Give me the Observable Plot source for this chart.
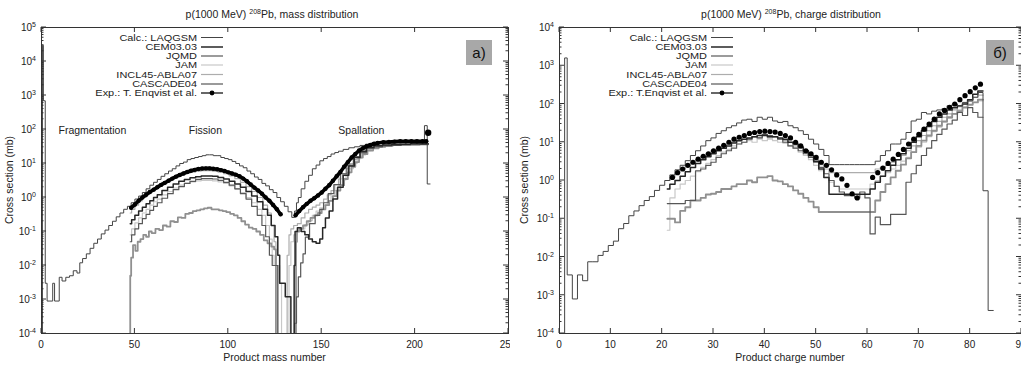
<!DOCTYPE html>
<html><head><meta charset="utf-8">
<script src="https://cdn.jsdelivr.net/npm/d3@7"></script>
<script src="https://cdn.jsdelivr.net/npm/@observablehq/plot@0.6"></script>
<style>
body{margin:0;background:#fff;overflow:hidden;width:1021px;height:367px}
#wrap{position:relative;width:1021px;height:367px;overflow:hidden}
#left,#right{position:absolute;top:0}
#left{left:0}#right{left:510px}
svg text{font-family:"Liberation Sans",Arial,Helvetica,sans-serif}
</style></head><body><div id="wrap"><div id="left"></div><div id="right"></div></div>
<script>
// ---------- Legend / labels ----------
const legendNames = ["Calc.: LAQGSM","CEM03.03","JQMD","JAM","INCL45-ABLA07","CASCADE04"];
const expNameMass = "Exp.: T. Enqvist et al.";
const expNameCharge = "Exp.: T.Enqvist et al.";
const massTicks = [0,50,100,150,200,250];
const chargeTicks = [0,10,20,30,40,50,60,70,80,90];
const massDecades = [-4,-3,-2,-1,0,1,2,3,4,5];
const chargeDecades = [-4,-3,-2,-1,0,1,2,3,4];

// ---------- Mass distribution (A, mb) ----------
const massLAQGSM = [[0.5,1e-6],[0.5,3e4],[1.5,700],[2.5,3e-3],[3.5,9e-4],[5.5,9e-4],[6.5,3e-3],[7.5,9e-4],[9,9e-4],[10,4.5e-3],[12,3.5e-3],[14,4.5e-3],[16,5e-3],[18,7e-3],[20,6e-3],[21,1.2e-2],[23,1.6e-2],[25,2.2e-2],[27,3.2e-2],[29,4.5e-2],[31,6e-2],[33,8.5e-2],[35,0.11],[37,0.15],[39,0.2],[41,0.27],[43,0.35],[45,0.45],[47,0.55],[49,0.7],[51,0.9],[53,1.1],[55,1.4],[57,1.8],[59,2.3],[61,2.8],[63,3.4],[65,4.2],[67,5],[69,6],[71,7],[73,8.5],[75,10],[77,11],[79,13],[81,14],[83,15],[85,16],[87,17],[89,18],[91,18],[93,17],[95,17],[97,15],[99,14],[101,13],[103,11.5],[105,10],[107,8.5],[109,7.5],[111,6],[113,5],[115,4],[117,3.4],[119,2.6],[121,2.2],[123,1.7],[125,1.4],[127,1.0],[129,0.75],[131,0.55],[133,0.38],[135,0.26],[136,0.4],[137,0.7],[138,1],[140,1.8],[142,3],[144,4.5],[146,7],[148,9],[150,12],[152,14],[154,16],[156,19],[158,21],[160,23],[163,26],[166,29],[169,31],[172,34],[175,37],[178,38],[181,39],[184,40],[187,40],[190,41],[193,42],[196,41],[199,42],[202,43],[204,44],[206,130],[207,2.5],[208,2.5]];
const massCEM = [[47.5,0.17],[49,0.22],[51,0.3],[53,0.4],[55,0.52],[57,0.65],[59,0.8],[61,1.0],[63,1.2],[66,1.6],[69,2.0],[72,2.5],[75,3.0],[78,3.4],[81,3.8],[84,4.1],[87,4.3],[90,4.3],[93,4.2],[96,3.9],[99,3.5],[102,3.0],[105,2.5],[108,2.0],[111,1.5],[114,1.1],[117,0.75],[120,0.45],[122,0.3],[124,0.15],[126,0.07],[127,0.02],[128,3e-3],[130,3e-3],[131,1.2e-3],[133,1.2e-3],[134,1e-6],[135,1e-6],[135.5,0.01],[136,0.1],[138,0.13],[140,0.1],[142,0.08],[144,0.06],[146,0.05],[148,0.045],[150,0.06],[151,0.13],[153,0.25],[155,0.4],[157,0.9],[160,2.0],[163,4.5],[166,8.5],[169,15],[172,23],[176,30],[180,33],[185,35],[190,36],[195,37],[200,38],[205,38],[207,38]];
const massJQMD = [[47.5,1e-6],[47.5,0.005],[48.5,0.017],[49.5,0.04],[51,0.027],[52,0.05],[54,0.06],[55,0.08],[57,0.07],[58,0.1],[60,0.09],[62,0.12],[64,0.11],[66,0.15],[68,0.14],[70,0.2],[72,0.19],[74,0.26],[76,0.25],[78,0.33],[80,0.35],[82,0.4],[84,0.42],[86,0.45],[88,0.48],[90,0.5],[92,0.45],[94,0.45],[96,0.42],[98,0.4],[100,0.37],[102,0.33],[104,0.3],[106,0.25],[108,0.2],[110,0.16],[112,0.13],[114,0.12],[116,0.1],[118,0.08],[120,0.055],[122,0.045],[124,0.036],[125,0.03],[126,1e-6],[136,1e-6],[136.5,0.05],[137,0.1],[139,0.12],[141,0.15],[143,0.2],[145,0.25],[147,0.3],[149,0.35],[151,0.45],[153,0.6],[155,0.8],[157,1.1],[159,1.6],[161,2.3],[163,3.5],[165,5.5],[167,8],[169,11],[171,15],[173,19],[176,24],[179,28],[182,31],[186,33],[190,35],[195,36],[200,37],[205,37],[207,37]];
const massJAM = [[47.5,0.08],[49,0.12],[51,0.18],[53,0.25],[55,0.35],[57,0.45],[59,0.6],[61,0.75],[63,0.9],[66,1.2],[69,1.5],[72,1.9],[75,2.3],[78,2.6],[81,2.9],[84,3.1],[87,3.2],[90,3.2],[93,3.1],[96,2.9],[99,2.6],[102,2.2],[105,1.8],[108,1.4],[111,1.0],[114,0.7],[117,0.45],[119,0.3],[121,0.15],[123,0.06],[124,0.02],[125,1e-2],[127,1e-2],[128,3e-3],[129,1e-6],[132,1e-6],[133,0.01],[134,0.05],[136,0.08],[138,0.1],[140,0.12],[142,0.16],[144,0.21],[146,0.3],[148,0.4],[150,0.5],[152,0.6],[154,0.8],[156,1.1],[158,1.6],[160,2.3],[162,3.3],[164,5],[166,7],[168,10],[170,14],[172,18],[175,24],[178,28],[181,31],[184,34],[188,36],[192,37],[196,38],[200,38],[204,38],[207,38]];
const massINCL = [[47.5,0.35],[49,0.45],[51,0.6],[53,0.8],[55,1.0],[57,1.3],[59,1.6],[61,1.9],[63,2.3],[66,2.8],[69,3.4],[72,4],[75,4.6],[78,5.2],[81,5.6],[84,6],[87,6.2],[90,6.2],[93,6],[96,5.6],[99,5],[102,4.3],[105,3.6],[108,2.8],[111,2.1],[114,1.5],[117,1.0],[120,0.6],[122,0.35],[124,0.15],[125,0.05],[126,0.01],[127,1e-6],[131,1e-6],[132,0.02],[133,0.08],[134,0.12],[136,0.15],[138,0.17],[140,0.25],[142,0.35],[144,0.45],[146,0.52],[148,0.6],[150,0.7],[152,0.9],[154,1.2],[156,1.6],[158,2.4],[160,3.5],[162,5],[164,7],[166,10],[168,13],[170,16],[172,20],[175,26],[178,30],[181,33],[184,36],[188,38],[192,39],[196,40],[200,40],[204,40],[206,38],[207,38]];
const massCASCADE = [[47.5,0.05],[49,0.08],[51,0.12],[53,0.17],[55,0.24],[57,0.32],[59,0.42],[61,0.55],[63,0.7],[66,0.95],[69,1.3],[72,1.7],[75,2.1],[78,2.6],[81,3.0],[84,3.4],[87,3.6],[90,3.6],[93,3.5],[96,3.2],[99,2.8],[102,2.3],[105,1.8],[108,1.3],[111,0.9],[114,0.55],[117,0.3],[119,0.15],[121,0.07],[123,0.02],[124,1e-2],[126,1e-2],[127,1e-6],[135,1e-6],[136,2e-4],[137,1.2e-3],[138,4.6e-3],[139.5,0.012],[140.5,0.022],[142,0.068],[145,0.17],[148,0.3],[150,0.45],[152,0.7],[155,1.3],[158,2.4],[162,5],[165,9],[169,15.6],[172,21],[176,28],[180,31],[185,33],[190,34],[195,35],[200,35],[205,36],[207,36]];
const massExpFission = [[48,0.5],[50,0.62],[52,0.8],[54,1.0],[56,1.2],[58,1.45],[60,1.7],[62,2.0],[64,2.35],[66,2.7],[68,3.1],[70,3.6],[72,4.1],[74,4.6],[76,5.1],[78,5.6],[80,6.1],[82,6.5],[84,6.9],[86,7.1],[88,7.2],[90,7.2],[92,7.0],[94,6.8],[96,6.4],[98,6.0],[100,5.5],[102,5.1],[104,4.7],[106,4.2],[108,3.6],[110,3.0],[112,2.4],[114,1.95],[116,1.6],[118,1.3],[120,1.0],[122,0.8],[124,0.6],[126,0.45],[128,0.32]];
const massExpSpall = [[136,0.3],[138,0.4],[140,0.52],[142,0.65],[144,0.8],[146,0.95],[148,1.15],[150,1.4],[152,1.8],[154,2.3],[156,3.1],[158,4.2],[160,5.6],[162,8],[164,11],[166,15],[168,19],[170,24],[172,28],[174,32],[176,35],[178,38],[180,40],[183,42],[186,43],[189,44],[192,45],[195,45],[198,45],[201,45],[204,45],[206,45]];
const massExpLast = [[207,80]];

// ---------- Charge distribution (Z, mb) ----------
const chargeLAQGSM = [[1,1e-6],[1,1600],[2,3.4e-3],[3,8e-4],[4,3.4e-3],[5,2.4e-3],[6,7.5e-3],[7,7.5e-3],[8,1.1e-2],[9,1.4e-2],[10,2e-2],[11,2.6e-2],[12,5.5e-2],[13,7.5e-2],[14,0.12],[15,0.16],[16,0.22],[17,0.3],[18,0.38],[19,0.55],[20,0.75],[21,1.0],[22,1.4],[23,1.9],[24,2.5],[25,3.3],[26,4.5],[27,6],[28,8],[29,11],[30,13],[31,17],[32,20],[33,24],[34,27],[35,32],[36,38],[37,40],[38,35],[39,45],[40,40],[41,45],[42,36],[43,33],[44,35],[45,27],[46,24],[47,20],[48,16],[49,12],[50,9],[51,6.5],[52,4.5],[53,2.6],[54,2.6],[55,2.6],[56,2.6],[57,2.6],[58,2.6],[59,2.6],[60,2.6],[61,2.6],[62,3.2],[63,4.5],[64,6],[65,9],[66,9],[67,12],[68,18],[69,36],[70,40],[71,60],[72,55],[73,65],[74,70],[75,75],[76,90],[77,100],[78,90],[79,110],[80,120],[81,150],[82,200],[83,0.54],[84,4e-4],[84.5,4e-4]];
const chargeCEM = [[21,0.6],[22,0.8],[23,1.0],[24,1.3],[25,1.7],[26,2.2],[27,2.8],[28,3.5],[29,4.2],[30,5],[31,6],[32,7],[33,8],[34,9.5],[35,11],[36,12],[37,13],[38,14],[39,15],[40,15],[41,14],[42,14],[43,13],[44,12],[45,10],[46,9],[47,7.5],[48,6],[49,4.5],[50,3.2],[51,2],[52,1.2],[53,0.44],[54,0.44],[55,0.44],[56,0.44],[57,0.44],[58,0.44],[59,0.44],[60,0.44],[61,0.6],[62,0.9],[63,1.3],[64,1.8],[65,2.5],[66,3.5],[67,5],[68,7],[69,10],[70,14],[71,20],[72,26],[73,35],[74,45],[75,55],[76,70],[77,80],[78,90],[79,100],[80,130],[81,180],[82,220],[82.5,220]];
const chargeJQMD = [[21,0.1],[22,0.1],[23,0.08],[24,0.16],[25,0.2],[26,0.3],[27,0.3],[28,0.35],[29,0.43],[30,0.45],[31,0.5],[32,0.6],[33,0.6],[34,0.7],[35,0.8],[36,0.8],[37,1.0],[38,0.9],[39,1.2],[40,1.2],[41,1.3],[42,1.0],[43,0.95],[44,0.8],[45,0.7],[46,0.55],[47,0.45],[48,0.35],[49,0.28],[50,0.2],[51,0.15],[52,0.15],[53,0.15],[54,0.15],[55,0.15],[56,0.15],[57,0.15],[58,0.15],[59,0.15],[60,0.15],[61,0.15],[62,0.3],[63,0.5],[64,0.8],[65,1.2],[66,1.8],[67,2.6],[68,3.8],[69,5.5],[70,8],[71,11],[72,15],[73,20],[74,27],[75,35],[76,45],[77,55],[78,65],[79,80],[80,95],[81,110],[82,130],[82.5,130]];
const chargeJAM = [[21,0.05],[22,0.35],[23,0.6],[24,0.8],[25,1.0],[26,1.3],[27,1.7],[28,2.2],[29,2.8],[30,3.5],[31,4.5],[32,5.5],[33,6.5],[34,8],[35,9],[36,10],[37,11],[38,10],[39,12],[40,11],[41,12],[42,11],[43,10],[44,9.5],[45,8],[46,7],[47,5.5],[48,4.5],[49,3.5],[50,2.5],[51,1.8],[52,1.2],[53,0.9],[54,0.7],[55,0.6],[56,0.6],[57,0.6],[58,0.6],[59,0.6],[60,0.6],[61,0.8],[62,1.0],[63,1.3],[64,1.6],[65,2],[66,2.5],[67,3.2],[68,4],[69,5.5],[70,7.5],[71,10],[72,14],[73,19],[74,25],[75,33],[76,42],[77,55],[78,70],[79,85],[80,100],[81,110],[82,120],[82.5,120]];
const chargeINCL = [[21,1.0],[22,1.2],[23,1.6],[24,2],[25,2.4],[26,3],[27,3.5],[28,4.2],[29,5],[30,6],[31,7],[32,8],[33,9],[34,10],[35,11],[36,13],[37,12],[38,14],[39,13],[40,15],[41,13],[42,14],[43,12],[44,11],[45,10],[46,8],[47,7],[48,5.5],[49,4.5],[50,3.5],[51,2.6],[52,2],[53,1.6],[54,1.6],[55,1.6],[56,1.6],[57,1.6],[58,1.6],[59,1.6],[60,1.6],[61,1.6],[62,2],[63,2.2],[64,2.5],[65,3],[66,3.5],[67,4.5],[68,6],[69,8],[70,11],[71,15],[72,20],[73,27],[74,35],[75,45],[76,55],[77,70],[78,85],[79,100],[80,120],[81,150],[82,170],[82.5,170]];
const chargeCASCADE = [[21,0.25],[22,0.25],[23,0.25],[24,0.25],[25,0.3],[26,0.3],[27,1.8],[28,2],[29,2.5],[30,3],[31,4],[32,5],[33,6],[34,7],[35,9],[36,10],[37,12],[38,14],[39,13],[40,16],[41,15],[42,14],[43,12],[44,10],[45,8],[46,7],[47,6],[48,5],[49,4],[50,3],[51,2.2],[52,1.5],[53,1.0],[54,0.7],[55,0.5],[56,0.4],[57,0.4],[58,0.35],[59,0.5],[60,0.35],[61,0.04],[62,0.11],[63,0.07],[64,0.07],[65,0.13],[66,0.13],[67,0.13],[68,0.9],[69,1.5],[70,2.5],[71,4.5],[72,7],[73,11],[74,16],[75,22],[76,30],[77,38],[78,60],[79,50],[80,80],[81,60],[82,45],[82.5,45]];
const chargeExp1 = [[22,1.2],[23,1.6],[24,2.0],[25,2.5],[26,3.0],[27,3.6],[28,4.3],[29,5],[30,6],[31,7],[32,8.3],[33,10],[34,12],[35,13.5],[36,15],[37,17],[38,18],[39,19],[40,19.5],[41,19],[42,18.5],[43,17],[44,15],[45,13],[46,10],[47,8],[48,6],[49,5],[50,4],[51,3],[52,2.5],[53,1.9],[54,1.4],[55,1.1],[56,0.75],[57,0.45],[58,0.35]];
const chargeExp2 = [[61,1.2],[62,1.6],[63,2.1],[64,2.8],[65,3.6],[66,4.8],[67,6.5],[68,9],[69,12],[70,16],[71,22],[72,30],[73,40],[74,55],[75,68],[76,82],[77,100],[78,130],[79,165],[80,210],[81,265],[82,330]];

// ---------- styles ----------
const styles = [
  {color:"#444444", width:1},    // LAQGSM
  {color:"#262626", width:1.5},  // CEM
  {color:"#909090", width:1.8},  // JQMD
  {color:"#c8c8c8", width:1.2},  // JAM
  {color:"#adadad", width:1.2},  // INCL
  {color:"#575757", width:1.2}   // CASCADE
];
const drawOrder = [3,4,2,5,1,0];

const H = 367, MT = 27, MB = 34;
const FONT = "Liberation Sans, Arial, Helvetica, sans-serif";

function makePanel(cfg){
  const marks = [];
  for (const i of drawOrder) {
    marks.push(Plot.line(cfg.series[i], {x: d => d[0], y: d => d[1], curve: "step", stroke: styles[i].color, strokeWidth: styles[i].width, clip: true}));
  }
  for (const seg of cfg.exp) {
    if (cfg.expLine) marks.push(Plot.line(seg, {x: d => d[0], y: d => d[1], stroke: "#000", strokeWidth: 3.6, clip: true}));
    marks.push(Plot.dot(seg, {x: d => d[0], y: d => d[1], r: cfg.dotR, fill: "#000", stroke: "none", clip: true}));
  }
  if (cfg.expExtra) marks.push(Plot.dot(cfg.expExtra, {x: d => d[0], y: d => d[1], r: 3.2, fill: "#000", clip: true}));
  marks.push(Plot.frame({stroke: "#333", strokeWidth: 1}));
  const plot = Plot.plot({
    width: cfg.width, height: H, marginTop: MT, marginBottom: MB,
    marginLeft: cfg.ml, marginRight: cfg.mr,
    style: {fontFamily: FONT, fontSize: "10px", background: "#fff", overflow: "hidden"},
    x: {domain: cfg.xDomain, axis: null},
    y: {type: "log", domain: cfg.yDomain, axis: null},
    marks
  });
  const svg = d3.select(plot);
  const xs = plot.scale("x"), ys = plot.scale("y");
  const X = v => xs.apply(v), Y = v => ys.apply(v);
  const top = MT, bot = H - MB, left = cfg.ml, right = cfg.width - cfg.mr;
  const g = svg.append("g").attr("stroke", "#333").attr("stroke-width", 1).attr("fill", "none");
  for (const t of cfg.xTicks) {
    const x = X(t);
    g.append("line").attr("x1", x).attr("x2", x).attr("y1", bot).attr("y2", bot - 5);
    g.append("line").attr("x1", x).attr("x2", x).attr("y1", top).attr("y2", top + 5);
  }
  const lab = svg.append("g").attr("fill", "#222").attr("font-size", 10).attr("font-family", FONT);
  for (const t of cfg.xTicks) {
    lab.append("text").attr("x", X(t)).attr("y", bot + 15).attr("text-anchor", "middle").text(String(t));
  }
  cfg.decades.forEach((e, i) => {
    const y = Y(Math.pow(10, e));
    g.append("line").attr("x1", left).attr("x2", left + 5).attr("y1", y).attr("y2", y);
    g.append("line").attr("x1", right).attr("x2", right - 5).attr("y1", y).attr("y2", y);
    if (i < cfg.decades.length - 1) {
      for (let k = 2; k <= 9; k++) {
        const ym = Y(k * Math.pow(10, e));
        g.append("line").attr("x1", left).attr("x2", left + 2.5).attr("y1", ym).attr("y2", ym);
        g.append("line").attr("x1", right).attr("x2", right - 2.5).attr("y1", ym).attr("y2", ym);
      }
    }
    const t = lab.append("text").attr("x", left - 5).attr("y", y + 4).attr("text-anchor", "end");
    t.append("tspan").text("10");
    t.append("tspan").attr("dy", -4).attr("font-size", 7).text(String(e));
  });
  // axis titles
  lab.append("text").attr("x", (left + right) / 2).attr("y", H - 6).attr("text-anchor", "middle").attr("font-size", 10.5).text(cfg.xLabel);
  lab.append("text").attr("transform", `translate(${cfg.yLabelX},${(top + bot) / 2}) rotate(-90)`).attr("text-anchor", "middle").attr("font-size", 10.5).text("Cross section (mb)");
  // title
  const tt = lab.append("text").attr("x", cfg.titleX).attr("y", 18).attr("text-anchor", "middle").attr("font-size", 10.5);
  tt.append("tspan").text("p(1000 MeV) ");
  tt.append("tspan").attr("dy", -4).attr("font-size", 7).text("208");
  tt.append("tspan").attr("dy", 4).text(cfg.title);
  // legend
  const names = legendNames.concat([cfg.expName]);
  const rowY = [37.5, 47, 56, 65, 74.5, 84, 93];
  const lg = svg.append("g");
  const lgText = lg.append("g").attr("transform", "translate(197,0) scale(1.15,1)");
  names.forEach((n, i) => {
    const y = rowY[i];
    lgText.append("text").attr("x", 0).attr("y", y + 3.3).attr("text-anchor", "end").attr("font-size", 9.5).attr("font-family", FONT).attr("fill", "#222").text(n);
    if (i < 6) {
      lg.append("line").attr("x1", 201).attr("x2", 223).attr("y1", y).attr("y2", y).attr("stroke", styles[i].color).attr("stroke-width", styles[i].width);
    } else {
      lg.append("line").attr("x1", 201).attr("x2", 223).attr("y1", y).attr("y2", y).attr("stroke", "#000").attr("stroke-width", 1.2);
      lg.append("circle").attr("cx", 212).attr("cy", y).attr("r", 2.4).attr("fill", "#000");
    }
  });
  // panel tag
  lg.append("rect").attr("x", cfg.tag.x).attr("y", 40).attr("width", cfg.tag.w).attr("height", 25).attr("fill", "#a8a8a8");
  lg.append("text").attr("x", cfg.tag.x + cfg.tag.w / 2).attr("y", 58).attr("text-anchor", "middle").attr("font-size", 15).attr("font-family", "DejaVu Sans, sans-serif").attr("fill", "#111").text(cfg.tag.text);
  // annotations
  for (const a of (cfg.notes || [])) {
    lab.append("text").attr("x", X(a.x)).attr("y", 134).attr("text-anchor", "middle").attr("font-size", 10.5).text(a.text);
  }
  return plot;
}

document.getElementById("left").appendChild(makePanel({
  width: 510, ml: 41, mr: 2, xDomain: [0, 250], xTicks: massTicks,
  yDomain: [1e-4, 1e5], decades: massDecades,
  series: [massLAQGSM, massCEM, massJQMD, massJAM, massINCL, massCASCADE],
  exp: [massExpFission, massExpSpall], expLine: true, dotR: 2.2, expExtra: massExpLast,
  xLabel: "Product mass number", yLabelX: 13, titleX: 272, title: "Pb, mass distribution",
  expName: expNameMass, tag: {x: 466, w: 26, text: "a)"},
  notes: [{x: 27.5, text: "Fragmentation"}, {x: 88, text: "Fission"}, {x: 171.5, text: "Spallation"}]
}));
document.getElementById("right").appendChild(makePanel({
  width: 511, ml: 49, mr: 0, xDomain: [0, 90], xTicks: chargeTicks,
  yDomain: [1e-4, 1e4], decades: chargeDecades,
  series: [chargeLAQGSM, chargeCEM, chargeJQMD, chargeJAM, chargeINCL, chargeCASCADE],
  exp: [chargeExp1, chargeExp2], expLine: false, dotR: 2.6,
  xLabel: "Product charge number", yLabelX: 18, titleX: 281, title: "Pb, charge distribution",
  expName: expNameCharge, tag: {x: 476, w: 28, text: "б)"}
}));
</script></body></html>
